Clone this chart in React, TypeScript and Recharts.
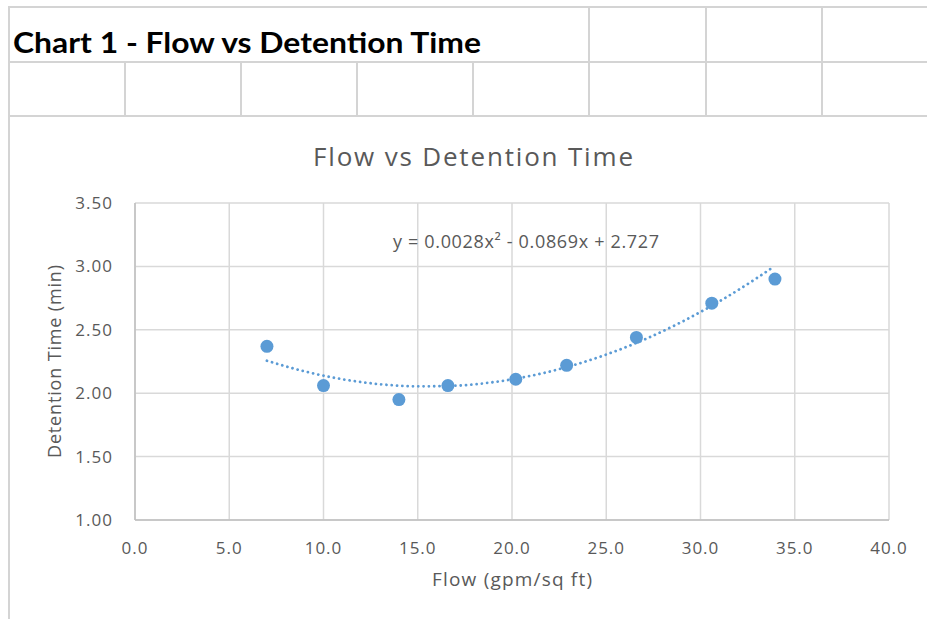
import React from "react";
import {
  ScatterChart,
  Scatter,
  XAxis,
  YAxis,
  CartesianGrid,
} from "recharts";

// Measured data points (Flow in gpm/sq ft, Detention Time in min)
const flow = [7.0, 10.0, 14.0, 16.6, 20.2, 22.9, 26.6, 30.6, 33.95];
const detention = [2.37, 2.06, 1.95, 2.06, 2.11, 2.22, 2.44, 2.71, 2.9];

// Dotted polynomial trendline
const trendX = [7, 9, 11, 13, 15, 17, 19, 21, 23, 25, 27, 29, 31, 33, 33.9];
const trendY = [2.256, 2.172, 2.11, 2.071, 2.054, 2.059, 2.087, 2.137, 2.21, 2.305, 2.422, 2.562, 2.724, 2.909, 2.999];

const xTicks = [0, 5, 10, 15, 20, 25, 30, 35, 40];
const yTicks = [1.0, 1.5, 2.0, 2.5, 3.0, 3.5];

const sheetTitle = "Chart 1 - Flow vs Detention Time";
const chartTitle = "Flow vs Detention Time";
const equation = "y = 0.0028x² - 0.0869x + 2.727";
const xLabel = "Flow (gpm/sq ft)";
const yLabel = "Detention Time (min)";

const points = flow.map((x, i) => ({ x, y: detention[i] }));
const trend = trendX.map((x, i) => ({ x, y: trendY[i] }));

const BLUE = "#5B9BD5";
const TEXT = "#595959";
const FONT = "'Open Sans', 'Noto Sans', sans-serif";
const SHEET_LINE = "#d4d4d4";

const hLine = (y: number, x1: number, x2: number, key: string) => (
  <div
    key={key}
    style={{ position: "absolute", left: x1, top: y - 1, width: x2 - x1, height: 2, background: SHEET_LINE }}
  />
);
const vLine = (x: number, y1: number, y2: number, key: string) => (
  <div
    key={key}
    style={{ position: "absolute", left: x - 1, top: y1, width: 2, height: y2 - y1, background: SHEET_LINE }}
  />
);

const row1Cols = [589, 706, 822];
const row2Cols = [125, 241, 357, 473, 589, 706, 822];

const tickStyle = { fill: TEXT, fontSize: 17, fontFamily: FONT, letterSpacing: 1 };

export default function App() {
  return (
    <div
      style={{
        position: "absolute",
        left: 0,
        top: 0,
        width: 927,
        height: 619,
        background: "#fff",
        overflow: "hidden",
      }}
    >
      {hLine(7, 9, 927, "h0")}
      {hLine(62, 9, 927, "h1")}
      {hLine(116, 9, 927, "h2")}
      {vLine(9, 6, 619, "v0")}
      {row1Cols.map((x, i) => vLine(x, 6, 62, "r1" + i))}
      {row2Cols.map((x, i) => vLine(x, 62, 116, "r2" + i))}

      <div style={{ position: "absolute", left: 0, top: 0 }}>
        <ScatterChart
          width={927}
          height={619}
          margin={{ top: 203, right: 38, bottom: 0, left: 0 }}
        >
          <CartesianGrid stroke="#d9d9d9" strokeWidth={1.5} />
          <XAxis
            type="number"
            dataKey="x"
            domain={[0, 40]}
            ticks={xTicks}
            tickFormatter={(v: number) => v.toFixed(1)}
            height={99}
            tickSize={0}
            tickMargin={22}
            axisLine={{ stroke: "#bfbfbf", strokeWidth: 1.5 }}
            tickLine={false}
            tick={tickStyle}
            allowDataOverflow
          />
          <YAxis
            type="number"
            dataKey="y"
            domain={[1, 3.5]}
            ticks={yTicks}
            tickFormatter={(v: number) => v.toFixed(2)}
            width={135}
            tickSize={0}
            tickMargin={22}
            axisLine={{ stroke: "#bfbfbf", strokeWidth: 1.5 }}
            tickLine={false}
            tick={tickStyle}
            allowDataOverflow
          />
          <Scatter
            data={trend}
            isAnimationActive={false}
            line={{
              stroke: BLUE,
              strokeWidth: 2.8,
              strokeDasharray: "0.01 5.3",
              strokeLinecap: "round",
            }}
            lineJointType="monotoneX"
            shape={() => <g />}
          />
          <Scatter
            data={points}
            isAnimationActive={false}
            shape={(p: any) => <circle cx={p.cx} cy={p.cy} r={6.5} fill={BLUE} />}
          />
        </ScatterChart>
      </div>

      <svg
        width={927}
        height={619}
        style={{ position: "absolute", left: 0, top: 0, pointerEvents: "none" }}
      >
        <text
          x={13}
          y={53}
          fontFamily="Lato, 'Noto Sans', sans-serif"
          fontWeight={700}
          fontSize={28}
          fill="#000"
          textLength={468}
          lengthAdjust="spacingAndGlyphs"
        >
          {sheetTitle}
        </text>
        <text
          x={313}
          y={166}
          fontFamily={FONT}
          fontSize={26}
          fill={TEXT}
          textLength={320}
          lengthAdjust="spacing"
        >
          {chartTitle}
        </text>
        <text
          x={393}
          y={248}
          fontFamily={FONT}
          fontSize={18}
          fill={TEXT}
          textLength={266}
          lengthAdjust="spacing"
        >
          {equation}
        </text>
        <text
          x={432}
          y={586}
          fontFamily={FONT}
          fontSize={19}
          fill={TEXT}
          textLength={160}
          lengthAdjust="spacing"
        >
          {xLabel}
        </text>
        <text
          x={0}
          y={0}
          transform="translate(61 458) rotate(-90)"
          fontFamily={FONT}
          fontSize={18}
          fill={TEXT}
          textLength={193}
          lengthAdjust="spacing"
        >
          {yLabel}
        </text>
      </svg>
    </div>
  );
}
